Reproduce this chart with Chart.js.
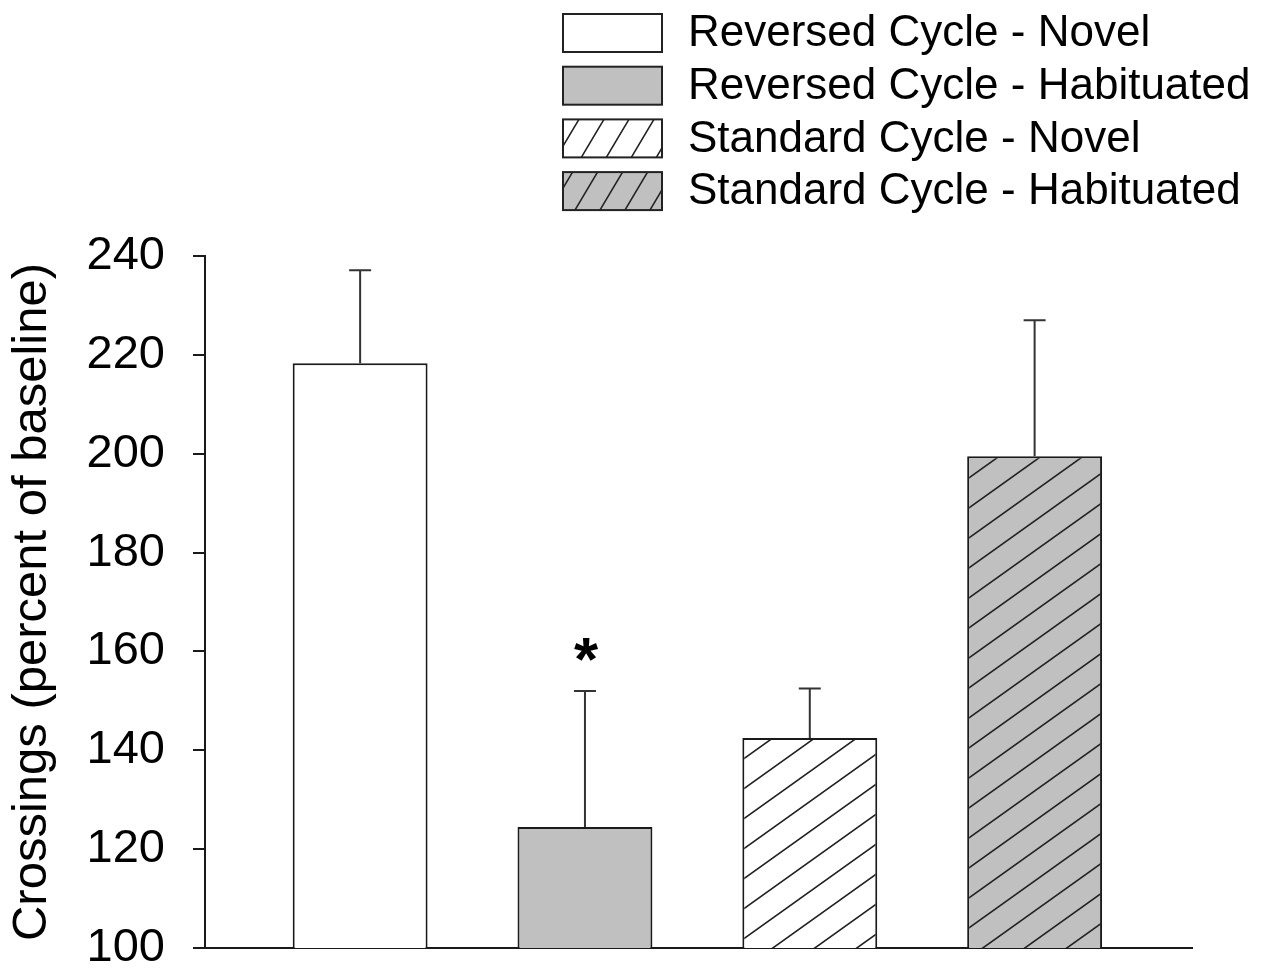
<!DOCTYPE html>
<html>
<head>
<meta charset="utf-8">
<script src="https://cdn.jsdelivr.net/npm/chart.js@4"></script>
<style>
  html, body { margin: 0; padding: 0; background: #fff; }
  #wrap { width: 1267px; height: 969px; }
</style>
</head>
<body>
<div id="wrap"><canvas id="crossingsChart"></canvas></div>
<script>
// values
const groups = ['Reversed Cycle - Novel', 'Reversed Cycle - Habituated', 'Standard Cycle - Novel', 'Standard Cycle - Habituated'];
const means = [218.3, 124.5, 142.5, 199.5];
const errors = [18.8, 27.5, 10, 27.5];
const marks = ['', '*', '', ''];
const yTicks = [100, 120, 140, 160, 180, 200, 220, 240];

const FONT = '"Liberation Sans", Arial, sans-serif';
const ctx = document.getElementById('crossingsChart').getContext('2d');

// diagonal hatch tile
function hatch(bg, w, h) {
  const c = document.createElement('canvas');
  c.width = w; c.height = h;
  const g = c.getContext('2d');
  g.fillStyle = bg;
  g.fillRect(0, 0, w, h);
  g.strokeStyle = '#222';
  g.lineWidth = 1.6;
  g.beginPath();
  g.moveTo(0, h); g.lineTo(w, 0);
  g.moveTo(-w, h); g.lineTo(w, -h);
  g.moveTo(0, 2 * h); g.lineTo(2 * w, 0);
  g.stroke();
  return ctx.createPattern(c, 'repeat');
}

const barFills = ['#ffffff', '#c0c0c0', hatch('#ffffff', 42, 30), hatch('#c0c0c0', 42, 30)];
const legendFills = ['#ffffff', '#c0c0c0', hatch('#ffffff', 25, 42), hatch('#c0c0c0', 25, 42)];

const extras = {
  id: 'extras',
  afterDatasetsDraw(chart) {
    const c = chart.ctx;
    const y = chart.scales.y;
    c.save();
    c.strokeStyle = '#333';
    c.lineWidth = 2;
    chart.data.datasets.forEach((ds, i) => {
      const bar = chart.getDatasetMeta(i).data[0];
      const top = y.getPixelForValue(means[i] + errors[i]);
      c.beginPath();
      c.moveTo(bar.x, bar.y);
      c.lineTo(bar.x, top);
      c.moveTo(bar.x - 11, top);
      c.lineTo(bar.x + 11, top);
      c.stroke();
      if (marks[i]) {
        c.fillStyle = '#000';
        c.font = 'bold 62px ' + FONT;
        c.textAlign = 'center';
        c.textBaseline = 'alphabetic';
        c.fillText(marks[i], bar.x + 1, top - 11);
      }
    });

    // legend, stacked top right
    chart.data.datasets.forEach((ds, i) => {
      const bx = 563, by = 14 + i * 52.7;
      c.fillStyle = legendFills[i];
      c.fillRect(bx, by, 99, 38);
      c.strokeStyle = '#222';
      c.lineWidth = 2;
      c.strokeRect(bx, by, 99, 38);
      c.fillStyle = '#000';
      c.font = '44px ' + FONT;
      c.textAlign = 'left';
      c.textBaseline = 'middle';
      c.fillText(ds.label, 688, by + 20);
    });
    c.restore();
  }
};

new Chart(ctx, {
  type: 'bar',
  data: {
    datasets: groups.map((g, i) => ({
      label: g,
      data: [{ x: i + 1, y: means[i] }],
      backgroundColor: barFills[i],
      borderColor: '#1a1a1a',
      borderWidth: 2,
      grouped: false,
      barPercentage: 0.6,
      categoryPercentage: 1
    }))
  },
  options: {
    responsive: true,
    maintainAspectRatio: false,
    animation: false,
    layout: { padding: { top: 256, right: 75, bottom: 21, left: 0 } },
    plugins: {
      legend: { display: false },
      tooltip: { enabled: false }
    },
    scales: {
      x: {
        type: 'linear',
        min: 0.31,
        max: 4.7,
        afterBuildTicks: s => { s.ticks = []; },
        afterFit: s => { s.height = 0; },
        grid: { display: false },
        ticks: { display: false },
        border: { display: true, color: '#1a1a1a', width: 2 }
      },
      y: {
        min: 100,
        max: 240,
        afterBuildTicks: s => { s.ticks = yTicks.map(v => ({ value: v })); },
        afterFit: s => { s.width = 205; s.paddingTop = 0; s.paddingBottom = 0; },
        grid: { drawOnChartArea: false, drawTicks: true, tickLength: 12, color: '#1a1a1a', lineWidth: 2 },
        border: { color: '#1a1a1a', width: 2 },
        ticks: { padding: 28, color: '#000', font: { family: FONT, size: 47 } },
        title: {
          display: true,
          text: 'Crossings (percent of baseline)',
          color: '#000',
          font: { family: FONT, size: 49 },
          padding: { top: 3 }
        }
      }
    }
  },
  plugins: [extras]
});
</script>
</body>
</html>
